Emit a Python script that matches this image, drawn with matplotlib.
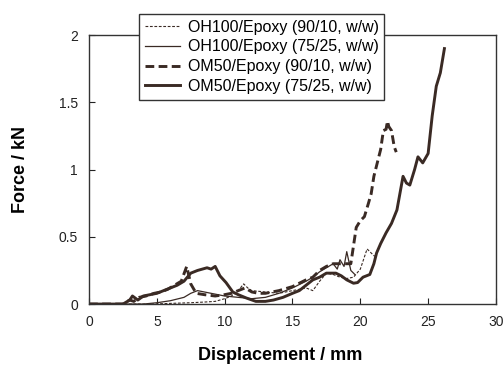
import matplotlib
matplotlib.use("Agg")
import matplotlib.pyplot as plt

plt.rcParams['font.family'] = ['Liberation Sans', 'DejaVu Sans']

# OH100/Epoxy (90/10) - thin dashed
oh90_x = [0, 4.5, 6, 7.5, 8.5, 9.3, 10.0, 10.5, 11.0, 11.4, 11.7, 12.0, 13.0, 14.0, 15.0, 16.0, 16.5,
          17.0, 17.5, 18.0, 18.5, 19.0, 19.5, 20.0, 20.2, 20.5, 20.8, 21.0, 21.2]
oh90_y = [0, 0, 0.005, 0.01, 0.015, 0.02, 0.04, 0.06, 0.1, 0.15, 0.12, 0.1, 0.09, 0.08, 0.1, 0.12, 0.1,
          0.17, 0.23, 0.22, 0.2, 0.19, 0.2, 0.26, 0.32, 0.41, 0.38, 0.36, 0.35]

# OH100/Epoxy (75/25) - thin solid
oh75_x = [0, 4.0, 5.0, 6.0, 7.0, 7.5, 8.0, 8.5, 9.0, 10.0, 11.0, 12.0, 13.0, 14.0, 15.0, 16.0,
          16.5, 17.0, 17.5, 18.0, 18.3, 18.5, 18.8, 19.0, 19.3, 19.6]
oh75_y = [0, 0, 0.01, 0.025, 0.05, 0.08, 0.1, 0.09, 0.08, 0.06, 0.05, 0.04, 0.05, 0.08, 0.12, 0.17,
          0.2, 0.24, 0.27, 0.3, 0.26, 0.33, 0.28, 0.39, 0.25, 0.22]

# OM50/Epoxy (90/10) - thick dashed
om90_x = [0, 2.5, 3.0, 3.3, 3.7, 4.2, 4.8, 5.3, 5.8, 6.3, 6.8, 7.2, 7.5, 7.9, 8.5, 9.3, 10.0, 10.5,
          11.0, 11.5, 12.0, 12.5, 13.0, 14.0, 15.0, 16.0, 16.5, 17.0, 17.5, 18.0, 18.5, 19.0, 19.3,
          19.7, 20.0, 20.3, 20.6, 20.8, 21.0, 21.3, 21.5, 21.7, 21.9, 22.0, 22.1, 22.3, 22.5, 22.65]
om90_y = [0, 0, 0.03, 0.02, 0.05, 0.06, 0.08, 0.09, 0.11, 0.14, 0.17, 0.28, 0.15, 0.08, 0.07, 0.06,
          0.07, 0.08, 0.1, 0.12, 0.09, 0.08, 0.08, 0.1, 0.13, 0.18, 0.2, 0.25, 0.28, 0.3, 0.3, 0.3, 0.3,
          0.57, 0.62, 0.65, 0.75, 0.82, 0.95, 1.07, 1.15, 1.29, 1.3, 1.36, 1.32, 1.29, 1.17, 1.13]

# OM50/Epoxy (75/25) - thick solid
om75_x = [0, 2.5, 3.0, 3.2, 3.6, 4.0, 4.5, 5.0, 5.5, 6.0, 6.5, 7.0, 7.5, 8.0, 8.7, 9.0, 9.3,
          9.65, 10.1, 10.6, 11.0, 11.6, 12.3, 13.0, 13.6, 14.3, 15.0, 15.5, 16.0, 16.5, 17.0,
          17.5, 18.2, 18.6, 19.0, 19.5, 19.8, 20.2, 20.7, 21.0, 21.2, 21.5, 21.9, 22.3, 22.7,
          23.15, 23.4, 23.65, 24.0, 24.25, 24.6, 25.0, 25.3, 25.6, 25.9, 26.2]
om75_y = [0, 0, 0.03, 0.06, 0.03, 0.06, 0.07, 0.08, 0.1, 0.12, 0.14, 0.17, 0.23, 0.25, 0.27,
          0.26, 0.28, 0.21, 0.16, 0.09, 0.07, 0.045, 0.02, 0.02, 0.03, 0.05, 0.08, 0.1, 0.14,
          0.18, 0.2, 0.23, 0.23, 0.21, 0.18, 0.155, 0.16, 0.2, 0.22, 0.3, 0.38, 0.45, 0.53, 0.6,
          0.7, 0.95, 0.9, 0.885, 1.0, 1.095, 1.05, 1.12, 1.4, 1.62, 1.72, 1.9]

labels = ['OH100/Epoxy (90/10, w/w)', 'OH100/Epoxy (75/25, w/w)',
          'OM50/Epoxy (90/10, w/w)', 'OM50/Epoxy (75/25, w/w)']

col = '#3a2a24'
fig = plt.figure(figsize=(5.03, 3.82), dpi=100)
ax = fig.add_axes([0.177, 0.204, 0.809, 0.704])

ax.plot(oh90_x, oh90_y, color=col, lw=0.8, ls=(0, (2.5, 1.5)), label=labels[0])
ax.plot(oh75_x, oh75_y, color=col, lw=0.9, ls='-', label=labels[1])
ax.plot(om90_x, om90_y, color=col, lw=2.1, ls=(0, (3, 1.5)), label=labels[2])
ax.plot(om75_x, om75_y, color=col, lw=2.1, ls='-', label=labels[3])

ax.set_xlim(0, 30)
ax.set_ylim(0, 2)
ax.set_xticks([0, 5, 10, 15, 20, 25, 30])
ax.set_yticks([0, 0.5, 1, 1.5, 2])
ax.set_yticklabels(['0', '0.5', '1', '1.5', '2'])
ax.tick_params(direction='in', length=4, labelsize=10, colors='#222222', pad=8)
for s in ax.spines.values():
    s.set_color('#333333')
    s.set_linewidth(1.0)

ax.set_xlabel('Displacement / mm', fontsize=13, fontweight='bold')
ax.set_ylabel('Force / kN', fontsize=13, fontweight='bold')
ax.xaxis.set_label_coords(0.469, -0.16)
ax.yaxis.set_label_coords(-0.147, 0.5)

leg = fig.legend(loc='upper left', bbox_to_anchor=(131 / 503, 1 - 6 / 382),
                 bbox_transform=fig.transFigure, fontsize=11.5, fancybox=False,
                 framealpha=1, edgecolor='#333333', handlelength=2.2,
                 labelspacing=0.3, borderpad=0.35, handletextpad=0.5)
leg.get_frame().set_linewidth(1.0)

fig.savefig('out.png', dpi=100)
